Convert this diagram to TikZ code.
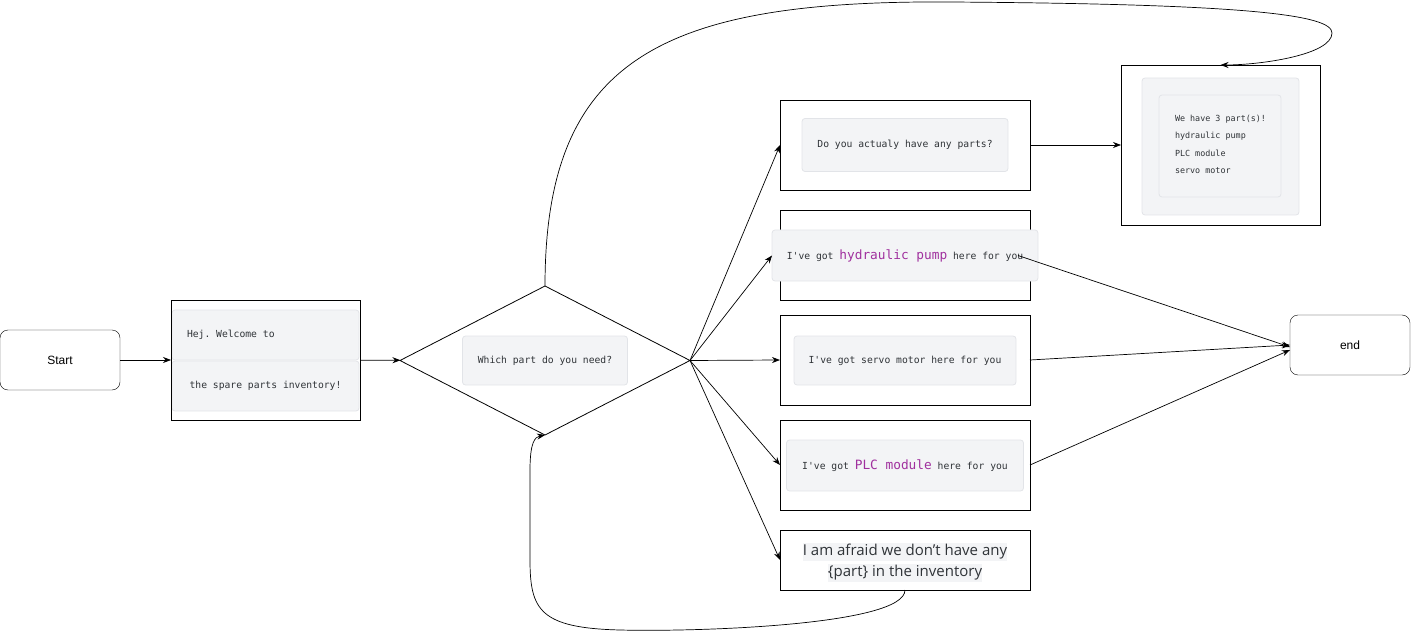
\documentclass[tikz,border=0pt]{standalone}
\usepackage{fontspec}
\setmainfont{Liberation Sans}
\setmonofont{DejaVu Sans Mono}
\newfontfamily\uifont{Open Sans}
\usetikzlibrary{shapes.geometric, arrows.meta, positioning, calc}
\definecolor{panelfill}{HTML}{F3F4F6}
\definecolor{panelline}{HTML}{E2E4E8}
\definecolor{chattext}{HTML}{2F3337}
\definecolor{partcol}{HTML}{A0309E}
\newcommand\spare[1]{{\color{partcol}\fontsize{12.8}{14}\selectfont #1}}

\begin{document}
\begin{tikzpicture}[x=1pt, y=-1pt,
    every node/.style={inner sep=0pt, outer sep=0pt},
    terminal/.style={draw, rounded corners=8pt, minimum width=120pt, minimum height=60pt, font=\fontsize{12}{14}\selectfont},
    frame/.style={draw, line width=0.8pt, minimum width=250pt, minimum height=90pt},
    panel/.style={draw=panelline, fill=panelfill, rounded corners=3pt, line width=0.8pt, text=chattext, font=\ttfamily\fontsize{9.7}{12}\selectfont},
    flow/.style={-{Stealth[length=8pt,width=6pt]}, line width=0.7pt}]

    \useasboundingbox (0,0) rectangle (1411,631);

    % Start and welcome
    \node[terminal] (start) at (60,360) {Start};
    \node[panel, minimum width=187pt, minimum height=50pt] (hej) at (265.5,335) {};
    \node[text=chattext, font=\ttfamily\fontsize{9.7}{12}\selectfont, anchor=west] (hejtxt) at ([xshift=15pt]hej.west) {Hej. Welcome to};
    \node[panel, minimum width=187pt, minimum height=50pt] (inv) at (265.5,386) {the spare parts inventory!};
    \node[draw, line width=0.8pt, minimum width=189pt, minimum height=120pt] (welcome) at (265.5,360) {};

    % Decision
    \node[draw, diamond, line width=0.8pt, minimum width=290pt, minimum height=149pt] (ask) at (545,360.5) {};
    \node[panel, minimum width=165pt, minimum height=49pt] (askq) at (ask) {Which part do you need?};

    % Answers
    \node[frame] (have) at (905,145) {};
    \node[panel, minimum width=206pt, minimum height=53pt] (haveq) at (have) {Do you actualy have any parts?};

    \node[draw, line width=0.8pt, minimum width=199pt, minimum height=160pt] (stock) at (1220.5,145) {};
    \node[panel, minimum width=157pt, minimum height=137pt] (stockouter) at (1220.5,146.5) {};
    \node[panel, minimum width=122pt, minimum height=102pt] (stockinner) at (1220,146) {};
    \node[anchor=north west, align=left, text=chattext, font=\ttfamily\fontsize{8.4}{17.4}\selectfont] (stocklist) at (1175,115) {We have 3 part(s)!\\hydraulic pump\\PLC module\\servo motor};

    \node[frame] (hyd) at (905,255) {};
    \node[panel, minimum width=266pt, minimum height=51pt] (hydq) at (905,255.5) {I've got \spare{hydraulic pump} here for you};

    \node[frame] (servo) at (905,360) {};
    \node[panel, minimum width=222pt, minimum height=49pt] (servoq) at (905,360.5) {I've got servo motor here for you};

    \node[frame] (plc) at (905,465) {};
    \node[panel, minimum width=237pt, minimum height=51pt] (plcq) at (905,465.5) {I've got \spare{PLC module} here for you};

    \node[draw, line width=0.8pt, minimum width=250pt, minimum height=60pt] (none) at (905,560) {};
    \node[fill=panelfill, inner ysep=1.5pt, text=chattext, font=\uifont\fontsize{15}{18}\selectfont] (nonea) at (905,552) {I am afraid we don’t have any};
    \node[fill=panelfill, inner ysep=1.5pt, text=chattext, font=\uifont\fontsize{15}{18}\selectfont] (noneb) at (905,572.5) {\{part\} in the inventory};

    \node[terminal] (finish) at (1350,345) {end};

    % Connectors
    \draw[flow] (start) -- (welcome);
    \draw[flow] (welcome) -- (ask);
    \draw[flow] (ask.east) -- (have.west);
    \draw[flow] (ask.east) -- (hydq.west);
    \draw[flow] (ask.east) -- (servo.west);
    \draw[flow] (ask.east) -- (plc.west);
    \draw[flow] (ask.east) -- (none.west);
    \draw[flow] (have) -- (stock);
    \draw[flow] ([xshift=-20pt]hydq.east) -- ([yshift=-2pt]finish.west);
    \draw[flow] (servo.east) -- (finish.west);
    \draw[flow] (plc.east) -- ([yshift=-5pt]finish.west);

    % Loops back
    \draw[flow] (ask.north) .. controls (545,60) and (660,0) .. (950,2)
        .. controls (1250,4) and (1332,15) .. (1332,33)
        .. controls (1332,55) and (1260,65) .. (stock.north);
    \draw[flow] (none.south) .. controls (905,625) and (700,632) .. (620,630)
        .. controls (540,628) and (530,610) .. (530,560) -- (530,470)
        .. controls (530,442) and (535,437) .. (ask.south);
\end{tikzpicture}
\end{document}
